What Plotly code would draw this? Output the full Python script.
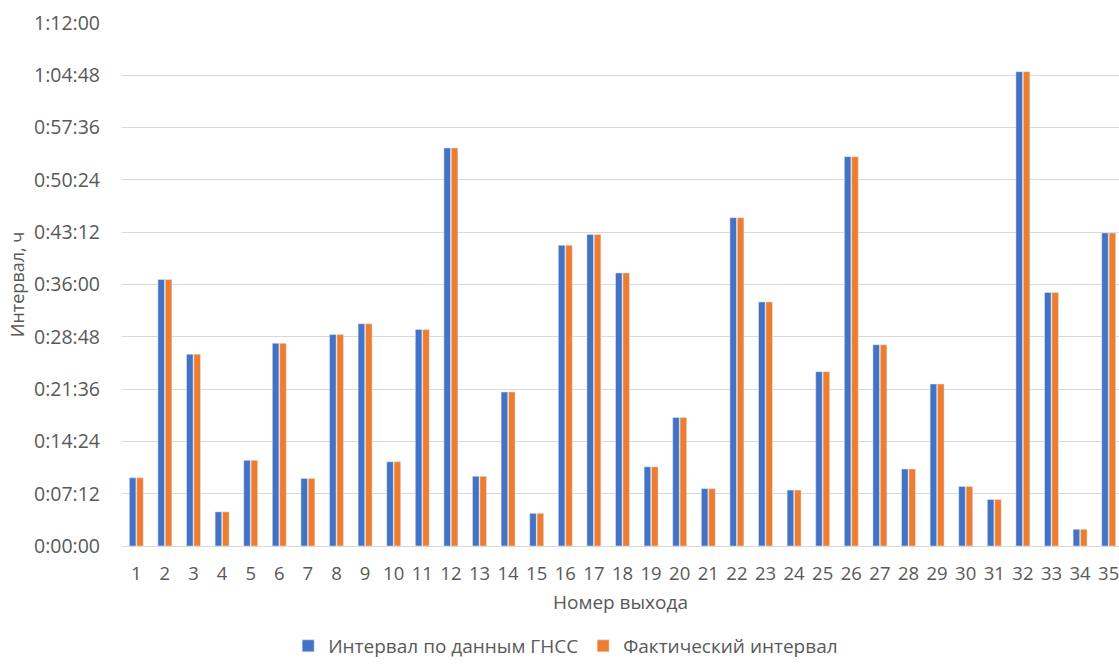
import plotly.graph_objects as go

# Номер выхода (departure number)
departures = [str(i) for i in range(1, 36)]

# Interval per departure, minutes
gnss_interval = [9.4, 36.7, 26.4, 4.7, 11.8, 27.9, 9.3, 29.1, 30.6, 11.6,
                 29.8, 54.8, 9.6, 21.2, 4.5, 41.4, 42.9, 37.6, 10.9, 17.7,
                 7.9, 45.2, 33.6, 7.7, 24.0, 53.6, 27.7, 10.6, 22.3, 8.2,
                 6.4, 65.3, 34.9, 2.3, 43.1]
actual_interval = [9.4, 36.7, 26.4, 4.7, 11.8, 27.9, 9.3, 29.1, 30.6, 11.6,
                   29.8, 54.8, 9.6, 21.2, 4.5, 41.4, 42.9, 37.6, 10.9, 17.7,
                   7.9, 45.2, 33.6, 7.7, 24.0, 53.6, 27.7, 10.6, 22.3, 8.2,
                   6.4, 65.3, 34.9, 2.3, 43.1]

# y-axis ticks every 7:12 up to 1:12:00
tick_minutes = [7.2 * k for k in range(11)]


def hms(minutes):
    s = int(round(minutes * 60))
    return f"{s // 3600}:{(s % 3600) // 60:02d}:{s % 60:02d}"


tick_labels = [hms(m) for m in tick_minutes]

FONT = "Open Sans"
GREY = "#595959"

fig = go.Figure()
fig.add_trace(go.Bar(x=departures, y=gnss_interval,
                     name="Интервал по данным ГНСС",
                     marker=dict(color="#4472C4")))
fig.add_trace(go.Bar(x=departures, y=actual_interval,
                     name="Фактический интервал",
                     marker=dict(color="#ED7D31")))

fig.update_layout(
    width=1119, height=666,
    margin=dict(l=122, r=0, t=23, b=120, autoexpand=False),
    paper_bgcolor="white", plot_bgcolor="white",
    barmode="group", bargap=0.486, bargroupgap=0.1,
    font=dict(family=FONT, size=19, color=GREY),
    showlegend=True,
    legend=dict(orientation="h", x=0.445, xref="paper", xanchor="center",
                y=0.03, yref="container", yanchor="middle",
                font=dict(size=19, color=GREY),
                itemwidth=30, traceorder="normal"),
)

fig.update_xaxes(
    type="category", range=[-0.5, 34.36],
    showgrid=False, showline=False, ticks="",
    tickfont=dict(size=18.5, color=GREY),
    ticklabelstandoff=14,
    title=dict(text="Номер выхода", font=dict(size=19, color=GREY), standoff=12),
)
fig.update_yaxes(
    range=[0, 72], tickvals=tick_minutes, ticktext=tick_labels,
    showgrid=True, gridcolor="#D9D9D9", gridwidth=1,
    zeroline=True, zerolinecolor="#D9D9D9", zerolinewidth=1,
    showline=False, ticks="",
    tickfont=dict(size=19.5, color=GREY),
    ticklabelstandoff=21,
    title=dict(text="Интервал, ч", font=dict(size=18, color=GREY), standoff=4),
)

fig.write_html("out.html")
